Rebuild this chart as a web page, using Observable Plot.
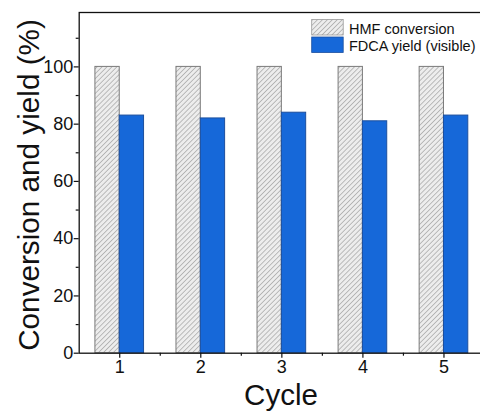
<!DOCTYPE html>
<html><head><meta charset="utf-8">
<script src="https://cdn.jsdelivr.net/npm/d3@7"></script>
<script src="https://cdn.jsdelivr.net/npm/@observablehq/plot@0.6"></script>
<style>
html,body{margin:0;padding:0;background:#fff;overflow:hidden;width:480px;height:412px;}
#chart{position:relative;width:484px;height:412px;}
</style>
</head><body><div id="chart"></div>
<script>
const cycles = [1, 2, 3, 4, 5];
const hmfConversion = [100, 100, 100, 100, 100];
const fdcaYield = [83, 82, 84, 81, 83];
const yMajorTicks = [0, 20, 40, 60, 80, 100];
const yMinorTicks = [10, 30, 50, 70, 90, 110];
const xMinorTicks = [1.5, 2.5, 3.5, 4.5, 5.5];
const seriesNames = ["HMF conversion", "FDCA yield (visible)"];

const barW = 0.3;
const hmf = cycles.map((c, i) => ({x1: c - barW, x2: c, y: hmfConversion[i]}));
const fdca = cycles.map((c, i) => ({x1: c, x2: c + barW, y: fdcaYield[i]}));

const font = "'Liberation Sans', Arial, sans-serif";
const plot = Plot.plot({
  width: 484, height: 412,
  marginLeft: 78.7, marginRight: 0, marginTop: 12, marginBottom: 59.3,
  style: {fontFamily: font, background: "#fff", color: "#111"},
  x: {domain: [0.5, 5.5]},
  y: {domain: [0, 119]},
  marks: [
    Plot.rectY(hmf, {x1: "x1", x2: "x2", y: "y", fill: "url(#hatch)", stroke: "#7a7a7a", strokeWidth: 1}),
    Plot.rectY(fdca, {x1: "x1", x2: "x2", y: "y", fill: "#1668d9", stroke: "#1c4f9e", strokeWidth: 1}),
    Plot.axisY(yMajorTicks, {anchor: "left", tickSize: 5, tickPadding: 1, fontSize: 18, tickFormat: d => d, label: null, strokeWidth: 1.2}),
    Plot.axisY(yMinorTicks, {anchor: "left", tickSize: 3, text: null, label: null, strokeWidth: 1.2}),
    Plot.axisX(cycles, {anchor: "bottom", tickSize: 5, tickPadding: 2, fontSize: 18, tickFormat: d => d, label: null, strokeWidth: 1.2}),
    Plot.axisX(xMinorTicks, {anchor: "bottom", tickSize: 3, text: null, label: null, strokeWidth: 1.2}),
    Plot.frame({stroke: "#111", strokeWidth: 1.3})
  ]
});

const svg = d3.select(plot);
const defs = svg.insert("defs", ":first-child");
const pat = defs.append("pattern").attr("id", "hatch").attr("patternUnits", "userSpaceOnUse")
  .attr("width", 3.5).attr("height", 3.5).attr("patternTransform", "rotate(45)");
pat.append("rect").attr("width", 3.5).attr("height", 3.5).attr("fill", "#ededed");
pat.append("line").attr("x1", 0).attr("y1", 0).attr("x2", 0).attr("y2", 3.5).attr("stroke", "#a5a5a5").attr("stroke-width", 1.4);

// axis titles
svg.append("text").attr("transform", "translate(39,185) rotate(-90)").attr("text-anchor", "middle")
  .attr("font-size", 29.7).attr("font-family", font).attr("fill", "#111").text("Conversion and yield (%)");
svg.append("text").attr("x", 281).attr("y", 405).attr("text-anchor", "middle")
  .attr("font-size", 29.5).attr("font-family", font).attr("fill", "#111").text("Cycle");

// legend
const leg = svg.append("g").attr("font-family", font).attr("font-size", 14.5).attr("fill", "#111").attr("text-anchor", "start");
const fills = ["url(#hatch)", "#1668d9"];
const strokes = ["#9a9a9a", "#1c4f9e"];
seriesNames.forEach((name, i) => {
  const y0 = 19.5 + i * 17.5;
  leg.append("rect").attr("x", 311.7).attr("y", y0).attr("width", 31.5).attr("height", 15.5)
    .attr("fill", fills[i]).attr("stroke", strokes[i]).attr("stroke-width", 0.8);
  leg.append("text").attr("x", 349).attr("y", y0 + 14).attr("text-anchor", "start").text(name);
});

document.getElementById("chart").appendChild(plot);
</script>
</body></html>
